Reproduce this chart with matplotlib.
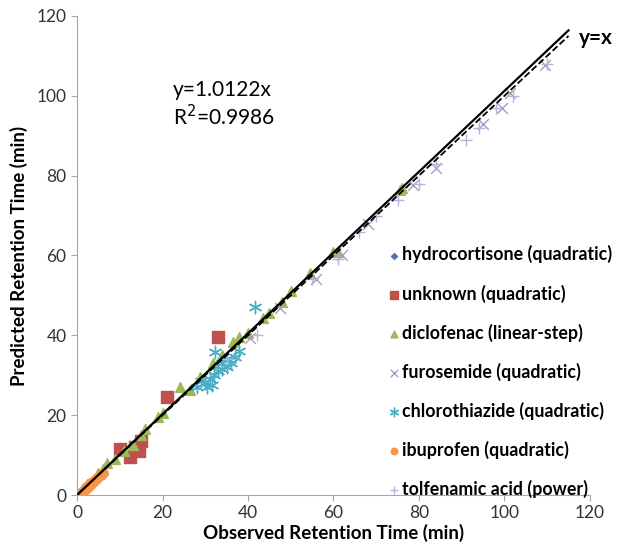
import matplotlib
matplotlib.use("Agg")
import matplotlib.pyplot as plt
import numpy as np

plt.rcParams['font.family'] = ['Lato', 'DejaVu Sans']

# observed (x) / predicted (y) retention times, min
hydro_x = [0.5, 1.0]
hydro_y = [0.6, 1.1]

unknown_x = [10, 12.5, 13.5, 14.5, 15, 21, 33]
unknown_y = [11.5, 9.5, 12, 11, 13.5, 24.5, 39.5]

diclo_x = [5, 6, 7, 9, 11, 13, 15, 16, 19, 20, 24, 26.5, 28.8, 31.9, 34, 36.5,
           38, 40, 43.6, 45, 48, 50, 54.6, 60, 61, 75.6, 76]
diclo_y = [5.5, 6.5, 8, 9, 11, 12.5, 15, 16.5, 19.5, 20.5, 27, 26.3, 29.6, 33, 35,
           38.3, 39.5, 40.5, 44.4, 45.5, 48.4, 51, 55.6, 61, 61, 76.4, 77]

furo_x = [40.5, 47.5, 56, 62, 68, 78.5, 84, 95, 99.5, 101.4, 109.6]
furo_y = [39.3, 46.9, 54, 60, 68, 77.7, 82, 93, 97, 100.7, 107.8]

chloro_x = [28, 29, 30, 30.5, 31, 31.5, 32, 32.3, 33, 34, 34, 35, 35, 36, 37, 38, 41.7]
chloro_y = [27, 28.5, 28, 27, 29, 27.5, 30, 35.8, 31, 31.5, 33, 32, 34, 33, 34.5, 36, 47]

ibu_x = [1, 1.5, 2, 2, 2.5, 3, 3, 3.5, 4, 4.5, 5, 5.5, 6]
ibu_y = [0.5, 1, 1.5, 2, 2, 2.5, 3, 3, 3.5, 4, 4.5, 5, 5.5]

tolf_x = [35, 42, 55, 61, 66, 70, 75, 80, 84, 91, 94, 98, 102, 110]
tolf_y = [34, 40, 54, 59, 66, 70, 74, 78, 83, 89, 92, 97, 100, 108]

slope = 1.0122
line_x = np.array([0, 115])

fig = plt.figure(figsize=(6.44, 5.45), dpi=100)
ax = fig.add_axes([0.1196, 0.0917, 0.7964, 0.879])

ax.plot(line_x, line_x, color='k', ls='--', lw=1.3, zorder=4)
ax.plot(line_x, slope * line_x, color='k', ls='-', lw=1.6, zorder=4)

ax.scatter(hydro_x, hydro_y, marker='D', s=18, color='#4F6FC1',
           label='hydrocortisone (quadratic)', zorder=3)
ax.scatter(unknown_x, unknown_y, marker='s', s=75, color='#C0504D',
           label='unknown (quadratic)', zorder=3)
ax.scatter(diclo_x, diclo_y, marker='^', s=50, color='#9BBB59',
           label='diclofenac (linear-step)', zorder=3)
ax.scatter(furo_x, furo_y, marker='x', s=60, color='#A99BC2', linewidths=1,
           label='furosemide (quadratic)', zorder=3)
ax.scatter(chloro_x, chloro_y, marker=(6, 2, 0), s=80, color='#4BACC6',
           linewidths=1, label='chlorothiazide (quadratic)', zorder=3)
ax.scatter(ibu_x, ibu_y, marker='o', s=45, color='#F79646',
           label='ibuprofen (quadratic)', zorder=3)
ax.scatter(tolf_x, tolf_y, marker='+', s=70, color='#B4B4DC', linewidths=1,
           label='tolfenamic acid (power)', zorder=3)

ax.text(22.5, 104, 'y=1.0122x\nR$^2$=0.9986', fontsize=15, va='top',
        linespacing=1.2)
ax.text(117.5, 114.5, 'y=x', fontsize=15, fontweight='bold', va='center')

ax.set_xlim(0, 120)
ax.set_ylim(0, 120)
ax.set_xticks(range(0, 121, 20))
ax.set_yticks(range(0, 121, 20))
for s in ['top', 'right']:
    ax.spines[s].set_visible(False)
for s in ['left', 'bottom']:
    ax.spines[s].set_color('#A6A6A6')
ax.tick_params(colors='#A6A6A6', labelcolor='#333333', labelsize=12.5, length=4)

ax.set_xlabel('Observed Retention Time (min)', fontsize=13.5, fontweight='bold',
              labelpad=2)
ax.set_ylabel('Predicted Retention Time (min)', fontsize=13.5, fontweight='bold',
              labelpad=6)

leg = ax.legend(loc='upper left', bbox_to_anchor=(0.59, 0.536), frameon=False,
                prop={'weight': 'bold', 'size': 12.8}, handletextpad=0.05,
                handlelength=0.8, labelspacing=1.18, borderaxespad=0,
                markerscale=0.7)

fig.savefig('out.png', dpi=100)
